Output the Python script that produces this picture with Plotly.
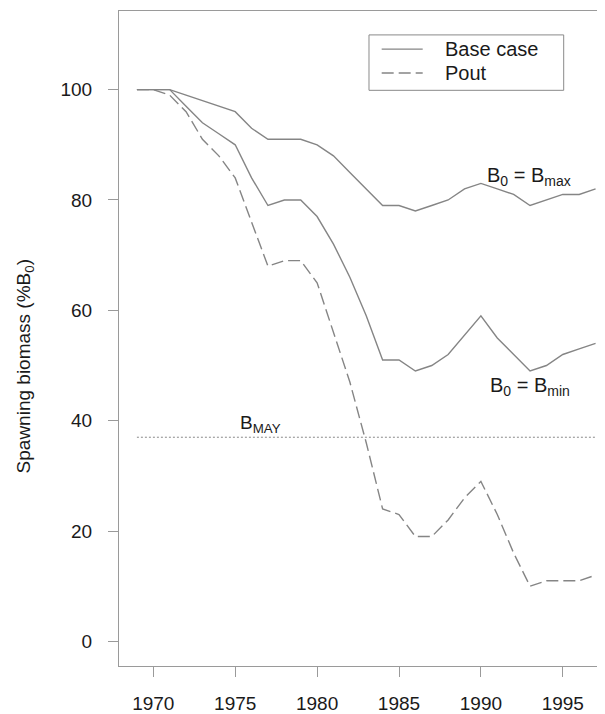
import plotly.graph_objects as go

years = list(range(1969, 1998))
base_bmax = [100, 100, 100, 99, 98, 97, 96, 93, 91, 91, 91, 90, 88, 85, 82, 79, 79, 78, 79, 80,
             82, 83, 82, 81, 79, 80, 81, 81, 82]
base_bmin = [100, 100, 100, 97, 94, 92, 90, 84, 79, 80, 80, 77, 72, 66, 59, 51, 51, 49, 50, 52,
             55.5, 59, 55, 52, 49, 50, 52, 53, 54]
pout = [100, 100, 99, 96, 91, 88, 84, 76, 68, 69, 69, 65, 56, 47, 36, 24, 23, 19, 19, 22,
        26, 29, 23, 16, 10, 11, 11, 11, 12]
bmay_years = [1969, 1997]
bmay_value = [37, 37]

x_ticks = [1970, 1975, 1980, 1985, 1990, 1995]
y_ticks = [0, 20, 40, 60, 80, 100]
legend_labels = ["Base case", "Pout"]
y_title = "Spawning biomass (%B<sub>0</sub>)"

LINE = "#858585"
AX = "#9a9a9a"
TXT = "#1a1a1a"
FONT = "Liberation Sans, Arial, Helvetica, sans-serif"

fig = go.Figure()
fig.add_trace(go.Scatter(x=years, y=base_bmax, mode="lines", name="Base case",
                         line=dict(color=LINE, width=1.4)))
fig.add_trace(go.Scatter(x=years, y=base_bmin, mode="lines", name="Base case",
                         line=dict(color=LINE, width=1.4)))
fig.add_trace(go.Scatter(x=years, y=pout, mode="lines", name="Pout",
                         line=dict(color=LINE, width=1.4, dash="12px,5px")))
fig.add_trace(go.Scatter(x=bmay_years, y=bmay_value, mode="lines", name="BMAY",
                         line=dict(color="#8a8a8a", width=1, dash="2px,2px")))

fig.add_annotation(x=1992.95, y=84.3, text="B<sub>0</sub> = B<sub>max</sub>", showarrow=False,
                   font=dict(size=20, color=TXT, family=FONT))
fig.add_annotation(x=1993.0, y=46.2, text="B<sub>0</sub> = B<sub>min</sub>", showarrow=False,
                   font=dict(size=20, color=TXT, family=FONT))
fig.add_annotation(x=1976.55, y=39.4, text="B<sub>MAY</sub>", showarrow=False,
                   font=dict(size=19, color=TXT, family=FONT))

# y-axis title placed as rotated text
fig.add_annotation(xref="paper", yref="paper", x=-0.1934, y=0.4574, text=y_title,
                   textangle=-90, showarrow=False, xanchor="center", yanchor="middle",
                   font=dict(size=19, color=TXT, family=FONT))

# manual legend (box, line samples, labels) in paper coordinates
fig.add_shape(type="rect", xref="paper", yref="paper", x0=0.5144, x1=0.9150, y0=0.8789, y1=0.9635,
              line=dict(color="#8a8a8a", width=1), fillcolor="white", layer="above")
fig.add_shape(type="line", xref="paper", yref="paper", x0=0.5405, x1=0.6249, y0=0.9418, y1=0.9418,
              line=dict(color=LINE, width=1.4))
fig.add_shape(type="line", xref="paper", yref="paper", x0=0.5405, x1=0.6249, y0=0.9053, y1=0.9053,
              line=dict(color=LINE, width=1.4, dash="12px,5px"))
for lab, yy in zip(legend_labels, [0.9418, 0.9053]):
    fig.add_annotation(xref="paper", yref="paper", x=0.6673, y=yy, text=lab, showarrow=False,
                       xanchor="left", yanchor="middle",
                       font=dict(size=20, color=TXT, family=FONT))

fig.update_layout(
    width=597, height=706,
    margin=dict(l=111, r=0, t=3, b=45),
    paper_bgcolor="white", plot_bgcolor="white",
    font=dict(family=FONT, color=TXT, size=19),
    showlegend=False,
)
fig.update_xaxes(range=[1967.906, 1997.576], tickvals=x_ticks, ticks="outside", ticklen=10,
                 tickcolor=AX, showline=True, linecolor=AX, linewidth=1, mirror=True,
                 showgrid=False, zeroline=False, tickfont=dict(size=19, color=TXT),
                 ticklabelstandoff=10)
fig.update_yaxes(range=[-4.46, 114.25], tickvals=y_ticks, ticks="outside", ticklen=10,
                 tickcolor=AX, showline=True, linecolor=AX, linewidth=1, mirror=False,
                 showgrid=False, zeroline=False, tickfont=dict(size=19, color=TXT),
                 ticklabelstandoff=12)

fig.write_html("out.html")
